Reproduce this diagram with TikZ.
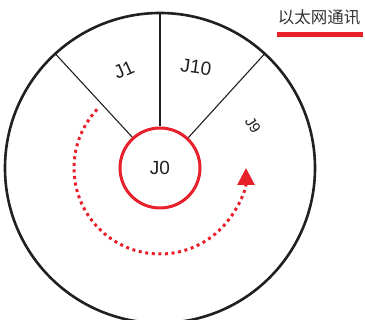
\documentclass[tikz,border=0pt]{standalone}
\usepackage{fontspec}
\setmainfont{Liberation Sans}
\newfontfamily\cjk{Noto Sans CJK SC}
\usetikzlibrary{arrows.meta,calc}
\definecolor{myred}{HTML}{E8202A}
\definecolor{ink}{HTML}{231F20}
\definecolor{titlegray}{HTML}{333333}
\begin{document}
\begin{tikzpicture}[x=1pt,y=-1pt,
  outer/.style={draw=ink,line width=2.6pt},
  spoke/.style={draw=ink,line width=1.1pt},
  hub/.style={circle,draw=myred,line width=3pt,minimum size=80pt,inner sep=0pt,font=\fontsize{19}{19}\selectfont,text=ink},
  lbl/.style={font=\fontsize{19}{19}\selectfont,text=ink,inner sep=0pt},
  slbl/.style={font=\fontsize{15}{15}\selectfont,text=ink,inner sep=0pt},
  ttl/.style={font=\cjk\fontsize{16.5}{16.5}\selectfont,text=titlegray,inner sep=0pt},
  bar/.style={draw=myred,line width=5pt},
  flow/.style={draw=myred,line width=3pt,dash pattern=on 3pt off 3.6pt,-{Triangle[length=17pt,width=17pt]}}]
\useasboundingbox (0,0) rectangle (365,320);
\clip (0,0) rectangle (365,320);
\coordinate (c) at (160,168);
\draw[outer] (c) circle[radius=155pt];
\node[hub] (j0) at (c) {J0};
\coordinate (o1) at ($(c)+(132.5:155pt)$);
\coordinate (o2) at ($(c)+(90:155pt)$);
\coordinate (o3) at ($(c)+(47.5:155pt)$);
\draw[spoke] (j0.132.5) -- (o1);
\draw[spoke] (j0.90) -- (o2);
\draw[spoke] (j0.47.5) -- (o3);
\node[lbl,rotate=24] (j1) at (124,70) {J1};
\node[lbl,rotate=-8] (j10) at (196,67) {J10};
\node[slbl,rotate=-57] (j9) at (253,125) {J9};
\coordinate (fs) at ($(c)+(137:86pt)$);
\draw[flow] (fs) arc[start angle=137,end angle=360,radius=86pt];
\node[ttl] (title) at (319,17) {以太网通讯};
\coordinate (b1) at (277,34.5);
\coordinate (b2) at (363,34.5);
\draw[bar] (b1) -- (b2);
\end{tikzpicture}
\end{document}
